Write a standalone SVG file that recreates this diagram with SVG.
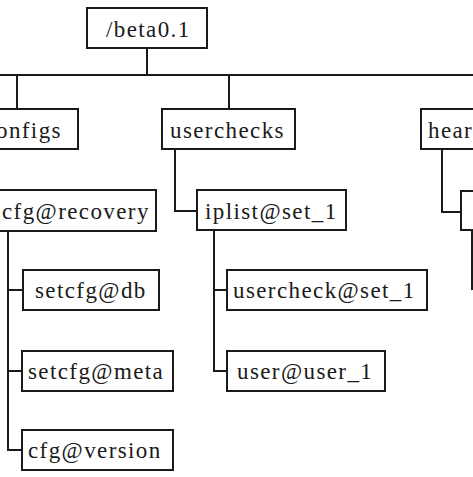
<svg xmlns="http://www.w3.org/2000/svg" width="473" height="477" viewBox="0 0 473 477">
<style>
.box{fill:#fff;stroke:#1a1a1a;stroke-width:2}
.lbl{font-family:"Liberation Serif","Times New Roman",serif;font-size:23px;letter-spacing:1.4px;fill:#1a1a1a}
.conn{fill:none;stroke:#1a1a1a;stroke-width:2}
</style>
<rect width="473" height="477" fill="#fff"/>
<g id="connectors" class="conn">
<path d="M147,48V75M0,75H473M17,75V109M229,75V109"/>
<path d="M175,149V211H197"/>
<path d="M442,149V212H461"/>
<path d="M8,231V450H22M8,290H23M8,371H22"/>
<path d="M214,230V371H227M214,290H227"/>
<path d="M472,230V290"/>
</g>
<g id="root"><rect class="box" x="87" y="8" width="120" height="40"/><text class="lbl" x="106" y="37">/beta0.1</text></g>
<g id="configs"><rect class="box" x="-10" y="109" width="88" height="40"/><text class="lbl" x="-4" y="138">onfigs</text></g>
<g id="userchecks"><rect class="box" x="162" y="109" width="133" height="40"/><text class="lbl" x="170" y="138">userchecks</text></g>
<g id="heartbeat"><rect class="box" x="421" y="109" width="70" height="40"/><text class="lbl" x="428" y="138">hear</text></g>
<g id="recovery"><rect class="box" x="-10" y="190" width="166" height="41"/><text class="lbl" x="2" y="219">cfg@recovery</text></g>
<g id="iplist"><rect class="box" x="197" y="190" width="149" height="40"/><text class="lbl" x="205" y="219">iplist@set_1</text></g>
<g id="hb-child"><rect class="box" x="461" y="191" width="30" height="39"/></g>
<g id="setcfg-db"><rect class="box" x="23" y="270" width="136" height="40"/><text class="lbl" x="35" y="298">setcfg@db</text></g>
<g id="usercheck-set"><rect class="box" x="227" y="270" width="200" height="40"/><text class="lbl" x="233" y="298">usercheck@set_1</text></g>
<g id="setcfg-meta"><rect class="box" x="22" y="351" width="151" height="40"/><text class="lbl" x="28" y="379">setcfg@meta</text></g>
<g id="user-user"><rect class="box" x="227" y="351" width="158" height="40"/><text class="lbl" x="237" y="379">user@user_1</text></g>
<g id="cfg-version"><rect class="box" x="22" y="430" width="151" height="40"/><text class="lbl" x="28" y="458">cfg@version</text></g>
</svg>
